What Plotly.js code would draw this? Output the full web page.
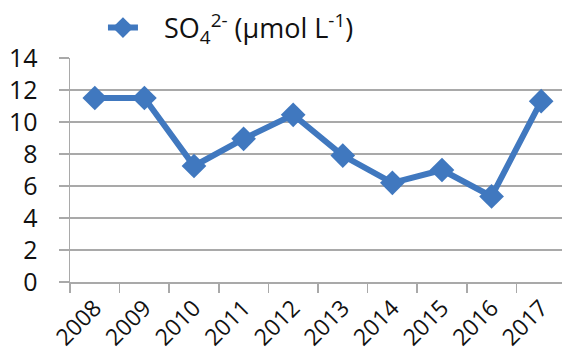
<!DOCTYPE html>
<html>
<head>
<meta charset="utf-8">
<script src="https://cdn.plot.ly/plotly-3.0.1.min.js"></script>
<style>html,body{margin:0;padding:0;background:#fff;}#chart{width:562px;height:360px;}</style>
</head>
<body>
<div id="chart"></div>
<script>
var years = ["2008","2009","2010","2011","2012","2013","2014","2015","2016","2017"];
var so4 = [11.5, 11.5, 7.25, 8.95, 10.45, 7.9, 6.2, 7.0, 5.35, 11.3];
var yTicks = [0, 2, 4, 6, 8, 10, 12, 14];
var seriesName = "\u00a0\u00a0\u00a0SO<sub>4</sub><sup>2-</sup> (\u03bcmol L<sup>-1</sup>)";

var blue = "#4078bf";
var grid = "#a9a9a9";

var trace = {
  type: "scatter",
  mode: "lines+markers",
  x: years,
  y: so4,
  name: seriesName,
  line: {color: blue, width: 6},
  marker: {symbol: "diamond", size: 19, color: blue},
  cliponaxis: false
};

var layout = {
  width: 562,
  height: 360,
  margin: {l: 70, r: 0, t: 58, b: 78, pad: 0, autoexpand: false},
  paper_bgcolor: "#fff",
  plot_bgcolor: "#fff",
  showlegend: true,
  legend: {
    x: 0.067, y: 1.134, xanchor: "left", yanchor: "middle",
    orientation: "h",
    font: {family: "Open Sans, sans-serif", size: 27, color: "#111"},
    bgcolor: "rgba(0,0,0,0)"
  },
  xaxis: {
    type: "category",
    range: [-0.5, 9.42],
    tickson: "boundaries",
    ticks: "outside",
    ticklen: 9,
    tickwidth: 1.5,
    tickcolor: grid,
    showline: true,
    linecolor: grid,
    linewidth: 1.5,
    showgrid: false,
    tickangle: -45,
    ticklabelstandoff: 2,
    tickfont: {family: "Open Sans, sans-serif", size: 23, color: "#111"},
    fixedrange: true
  },
  yaxis: {
    range: [0, 14],
    tickvals: yTicks,
    ticktext: yTicks.map(String),
    ticks: "outside",
    ticklen: 10,
    tickwidth: 1.5,
    tickcolor: grid,
    showline: true,
    linecolor: grid,
    linewidth: 1.5,
    showgrid: true,
    gridcolor: grid,
    gridwidth: 1.5,
    zeroline: false,
    ticklabelstandoff: 16,
    tickfont: {family: "Open Sans, sans-serif", size: 25, color: "#111"},
    fixedrange: true
  }
};

Plotly.newPlot("chart", [trace], layout, {staticPlot: true, displayModeBar: false});
</script>
</body>
</html>
